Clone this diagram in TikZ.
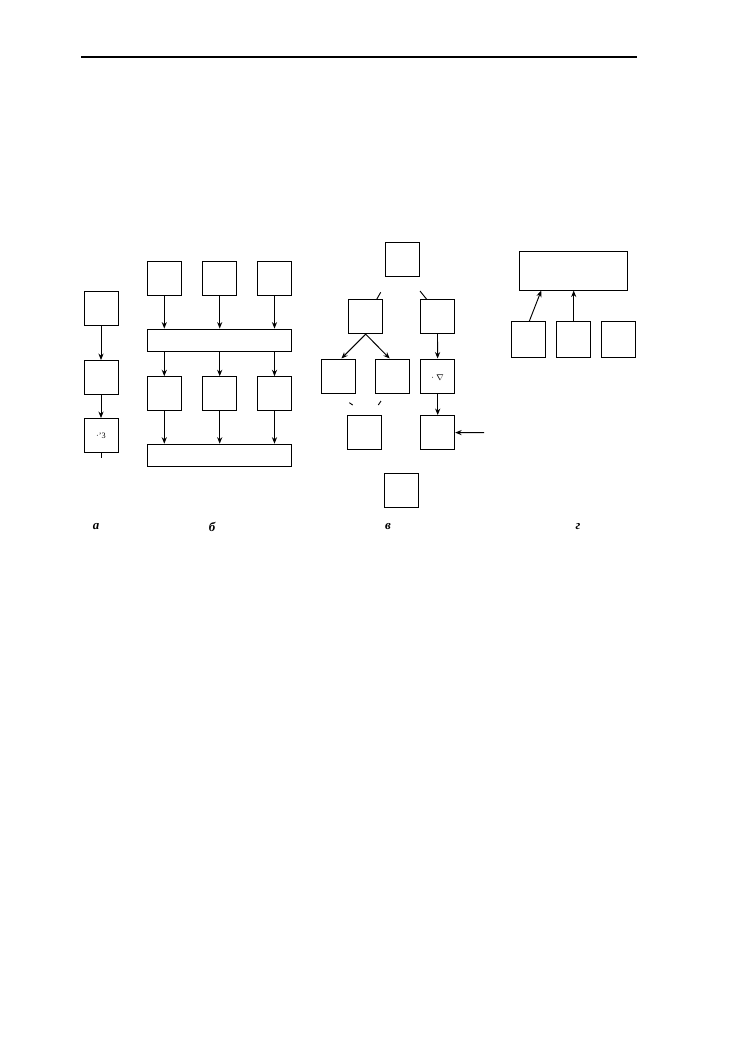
\documentclass[tikz,border=0pt]{standalone}
\usepackage{fontspec}
\setmainfont{Liberation Serif}
\usetikzlibrary{positioning,calc,arrows.meta}

\begin{document}
\begin{tikzpicture}[x=0.03cm,y=-0.03cm,
                    >={Stealth[length=5.5pt,width=4.4pt]},
                    box/.style={draw,line width=0.85pt,inner sep=0pt,minimum width=1.02cm,minimum height=1.02cm},
                    bar/.style={draw,line width=0.85pt,inner sep=0pt,minimum width=4.33cm,minimum height=0.67cm},
                    wide/.style={draw,line width=0.85pt,inner sep=0pt,minimum width=3.25cm,minimum height=1.15cm},
                    lbl/.style={inner sep=0pt,font=\bfseries\itshape\fontsize{11}{11}\selectfont},
                    tiny/.style={inner sep=0pt,font=\fontsize{7}{7}\selectfont},
                    link/.style={line width=0.8pt}]
            \useasboundingbox (0,0) rectangle (749,1064);

            %Rule
                \coordinate (rl) at (81,57);
                \coordinate (rr) at (637,57);
                \draw[line width=1.3pt] (rl) -- (rr);

            %Nodes (a)
                \node[box] (a1) at (101,308.5) {};
                \node[box] (a2) at (101,377.5) {};
                \node[box] (a3) at (101,435.5) {};
                \node[tiny] (a3t) at (101,436) {·'3};
                \coordinate (a3e) at (101,458);

            %Nodes (b)
                \node[box] (b1) at (164.3,278.5) {};
                \node[box] (b2) at (219.7,278.5) {};
                \node[box] (b3) at (274.5,278.5) {};
                \node[bar] (bar1) at (219.5,340.2) {};
                \node[box] (b4) at (164.3,393.7) {};
                \node[box] (b5) at (219.7,393.7) {};
                \node[box] (b6) at (274.5,393.7) {};
                \node[bar] (bar2) at (219.5,455.3) {};

            %Nodes (v)
                \node[box] (v1) at (402,259.5) {};
                \node[box] (v2) at (365.7,316.7) {};
                \node[box] (v3) at (437.4,316.7) {};
                \node[box] (v4) at (338.4,376) {};
                \node[box] (v5) at (392.7,376) {};
                \node[box] (v6) at (437.7,376) {};
                \node[tiny] (v6t) at (437.7,378) {· $\nabla$};
                \node[box] (v7) at (364,432.5) {};
                \node[box] (v8) at (437.7,432.5) {};
                \node[box] (v9) at (401.7,490) {};
                \coordinate (f1) at (380.7,292.3);
                \coordinate (f2) at (376.7,299.3);
                \coordinate (f3) at (420,291);
                \coordinate (f4) at (426.7,299.3);
                \coordinate (f5) at (349.3,402.7);
                \coordinate (f6) at (352.7,405);
                \coordinate (f7) at (381,401);
                \coordinate (f8) at (378.3,405);
                \coordinate (vin) at (484,432.7);

            %Nodes (g)
                \node[wide] (g0) at (573.5,270.9) {};
                \node[box,minimum height=1.08cm] (g1) at (528.8,339.7) {};
                \node[box,minimum height=1.08cm] (g2) at (573.7,339.7) {};
                \node[box,minimum height=1.08cm] (g3) at (618,339.7) {};

            %Labels
                \node[lbl] (la) at (96,527) {а};
                \node[lbl] (lb) at (212,527) {б};
                \node[lbl] (lv) at (388,527) {в};
                \node[lbl] (lg) at (578,527) {г};

            %Lines (a)
                \draw[link,->] (a1) -- (a2);
                \draw[link,->] (a2) -- (a3);
                \draw[link] (a3) -- (a3e);

            %Lines (b)
                \draw[link,->] (b1) -- (b1 |- bar1.north);
                \draw[link,->] (b2) -- (b2 |- bar1.north);
                \draw[link,->] (b3) -- (b3 |- bar1.north);
                \draw[link,->] (bar1.south -| b4) -- (b4);
                \draw[link,->] (bar1.south -| b5) -- (b5);
                \draw[link,->] (bar1.south -| b6) -- (b6);
                \draw[link,->] (b4) -- (b4 |- bar2.north);
                \draw[link,->] (b5) -- (b5 |- bar2.north);
                \draw[link,->] (b6) -- (b6 |- bar2.north);

            %Lines (v)
                \draw[link] (f1) -- (f2);
                \draw[link] (f3) -- (f4);
                \draw[link,->] (v2.south) -- ($(v4.north)+(3,0)$);
                \draw[link,->] (v2.south) -- ($(v5.north)+(-3,0)$);
                \draw[link,->] (v3) -- (v6);
                \draw[link,->] (v6) -- (v8);
                \draw[link] (f5) -- (f6);
                \draw[link] (f7) -- (f8);
                \draw[link,->] (vin) -- (v8);

            %Lines (g)
                \draw[link,->] ($(g1.north)+(0.5,0)$) -- ($(g0.south west)+(22.4,0)$);
                \draw[link,->] (g2.north) -- (g2.north |- g0.south);
\end{tikzpicture}
\end{document}
